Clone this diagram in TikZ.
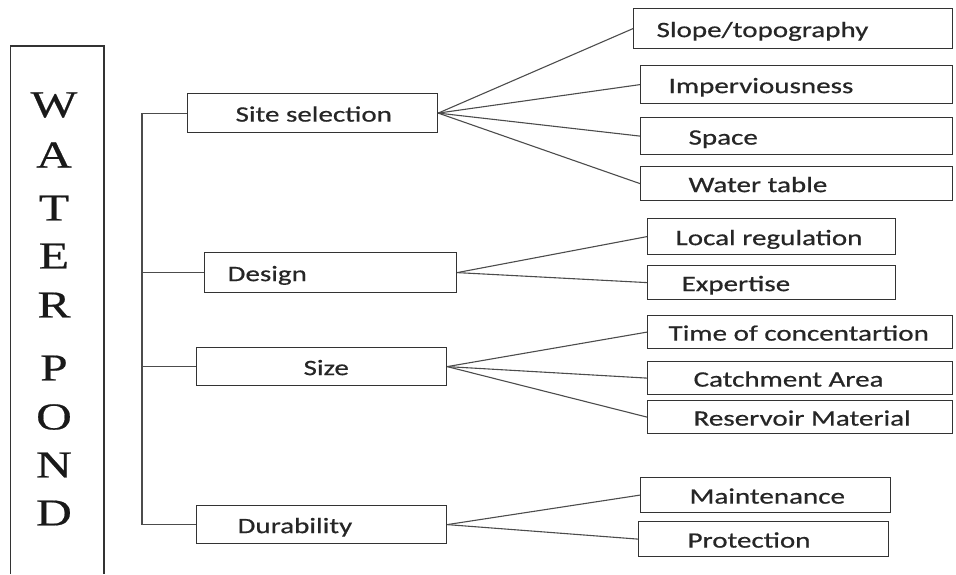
\documentclass[tikz,border=0pt]{standalone}
\usepackage{fontspec}
\setmainfont{Carlito}[FakeStretch=1.32,FakeBold=0.6]
\newfontfamily\titlefont{Liberation Serif}[FakeStretch=1.3,FakeBold=0.5]

% box node: name, left, top, right, bottom, left padding of the text, text
\newcommand{\pondbox}[7]{%
  \node[bx, minimum height={#5-#3}] (#1) at (#2,#3)
    {\makebox[\dimexpr #4pt-#2pt\relax][l]{\hspace*{#6pt}#7}};}

\begin{document}
\begin{tikzpicture}[x=1pt,y=-1pt,
  bx/.style={draw=black!80, line width=1.2pt, inner sep=0pt, anchor=north west,
             text height=19pt, text depth=2pt, font=\fontsize{22}{24}\selectfont,
             text=black!85},
  link/.style={draw=black!70, line width=1.1pt},
  frame/.style={draw=black!80, line width=1.2pt},
  ltr/.style={inner sep=0pt, font=\titlefont\fontsize{38}{40}\selectfont, text=black!90}]
\useasboundingbox (0,0) rectangle (956,574);

% title column
\draw[frame] (10.5,574) -- (10.5,46) -- (104,46) -- (104,574);
\foreach \ch/\yy [count=\i] in {W/105,A/155,T/208,E/256,R/305,P/368,O/417,N/465,D/513}
  \node[ltr] (L\i) at (54,\yy) {\ch};

% main factors
\pondbox{site}{187}{93}{437}{132}{48}{Site selection}
\pondbox{design}{204}{252}{456}{292}{23}{Design}
\pondbox{size}{196}{347}{446}{385}{107}{Size}
\pondbox{dur}{196}{505}{446}{543}{41}{Durability}

% sub-factors
\pondbox{slope}{633}{8}{952}{48}{23}{Slope/topography}
\pondbox{imperv}{640}{65}{952}{103}{28}{Imperviousness}
\pondbox{space}{640}{117}{952}{154}{48}{Space}
\pondbox{water}{640}{166}{952}{200}{48}{Water table}
\pondbox{local}{647}{218}{895}{254}{28}{Local regulation}
\pondbox{expert}{647}{265}{895}{299}{34}{Expertise}
\pondbox{time}{647}{315}{952}{348}{21}{Time of concentartion}
\pondbox{catch}{647}{361}{952}{394}{46}{Catchment Area}
\pondbox{reserv}{647}{400}{952}{433}{46}{Reservoir Material}
\pondbox{maint}{640}{477}{890}{512}{49}{Maintenance}
\pondbox{prot}{638}{521}{888}{556}{49}{Protection}

% trunk
\coordinate (trunk) at (142,0);
\draw[link] (site.west) -- (site.west -| trunk) -- (dur.west -| trunk) -- (dur.west);
\draw[link] (design.west -| trunk) -- (design.west);
\draw[link] (size.west -| trunk) -- (size.west);

% fans
\foreach \c in {slope,imperv,space,water} \draw[link] (site.east) -- (\c.west);
\foreach \c in {local,expert} \draw[link] (design.east) -- (\c.west);
\foreach \c in {time,catch,reserv} \draw[link] (size.east) -- (\c.west);
\foreach \c in {maint,prot} \draw[link] (dur.east) -- (\c.west);
\end{tikzpicture}
\end{document}
